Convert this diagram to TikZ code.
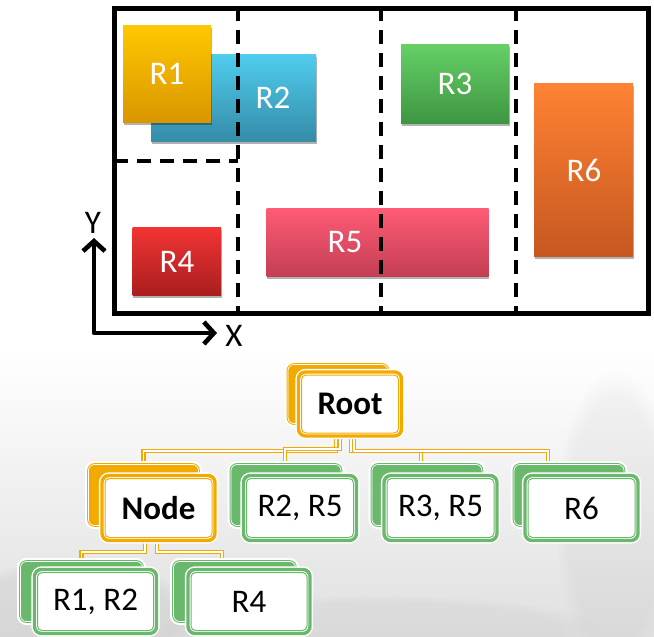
\documentclass[tikz,border=0pt]{standalone}
\usepackage{fontspec}
\setmainfont{Carlito}
\usetikzlibrary{arrows.meta,shadows,fadings}

\definecolor{gold}{RGB}{242,170,0}
\definecolor{leaf}{RGB}{106,184,108}
\definecolor{haze}{RGB}{224,224,224}
\definecolor{rOneT}{RGB}{255,200,0}
\definecolor{rOneB}{RGB}{218,150,0}
\definecolor{rTwoT}{RGB}{80,205,238}
\definecolor{rTwoB}{RGB}{52,140,168}
\definecolor{rThreeT}{RGB}{102,208,102}
\definecolor{rThreeB}{RGB}{62,150,66}
\definecolor{rFourT}{RGB}{242,52,52}
\definecolor{rFourB}{RGB}{170,30,30}
\definecolor{rFiveT}{RGB}{255,92,118}
\definecolor{rFiveB}{RGB}{196,62,84}
\definecolor{rSixT}{RGB}{255,130,52}
\definecolor{rSixB}{RGB}{198,88,32}

\newcommand\lblfont{\fontsize{33}{38}\selectfont}

\pgfdeclarelayer{backdrop}
\pgfdeclarelayer{links}
\pgfsetlayers{backdrop,links,main}

\tikzset{
  region/.style 2 args={top color=#1, bottom color=#2, draw=none, inner sep=0pt, outer sep=0pt,
    drop shadow={shadow xshift=0.5pt, shadow yshift=-3pt, opacity=0.3, fill=black}},
  rlabel/.style={text=white, font=\lblfont, inner sep=0pt},
  divider/.style={line width=4.6pt, dash pattern=on 14pt off 9pt},
  frame/.style={line width=5pt},
  axis/.style={line width=4.6pt, line join=round,
    {Straight Barb[length=10pt,width=22pt]}-{Straight Barb[length=10pt,width=22pt]}},
  axlabel/.style={font=\lblfont, inner sep=0pt},
  backbox/.style={draw=#1, fill=#1, line width=1pt, double=white, double distance=0.7pt,
    rounded corners=6pt, inner sep=0pt, outer sep=0pt,
    preaction={draw=white, line width=7pt}},
  frontbox/.style={draw=#1, fill=white, line width=3.4pt, rounded corners=7pt,
    inner sep=0pt, outer sep=0pt, font=\lblfont,
    preaction={draw=white, line width=6.2pt}},
  innerline/.style={draw=#1, line width=1pt, rounded corners=4.5pt},
  conn/.style={draw=gold, line width=1.6pt, double=white, double distance=1.3pt},
}

\begin{document}
\begin{tikzpicture}[x=1pt,y=-1pt]
\useasboundingbox (0,0) rectangle (654,637);

% faded backdrop behind the tree
\begin{pgfonlayer}{backdrop}
\fill[top color=white, bottom color=haze] (0,350) rectangle (654,637);
\fill[gray, opacity=0.07, path fading=circle with fuzzy edge 20 percent] (615,520) ellipse (60 and 150);
\fill[gray, opacity=0.10, path fading=circle with fuzzy edge 20 percent] (70,615) ellipse (130 and 55);
\fill[gray, opacity=0.07, path fading=circle with fuzzy edge 20 percent] (380,630) ellipse (220 and 35);
\end{pgfonlayer}

% ---------- spatial partition ----------
\node[region={rTwoT}{rTwoB}, minimum width=165pt, minimum height=87pt] (r2) at (233.5,97.5) {};
\node[region={rOneT}{rOneB}, minimum width=88pt, minimum height=97pt] (r1) at (167,73.5) {};
\node[region={rThreeT}{rThreeB}, minimum width=108pt, minimum height=79pt] (r3) at (455,83.5) {};
\node[region={rFourT}{rFourB}, minimum width=88.5pt, minimum height=68pt] (r4) at (176.75,261) {};
\node[region={rFiveT}{rFiveB}, minimum width=222pt, minimum height=68pt] (r5) at (377.5,242) {};
\node[region={rSixT}{rSixB}, minimum width=99pt, minimum height=173pt] (r6) at (583.5,169.5) {};

\node[rlabel] (l1) at (167,74) {R1};
\node[rlabel] (l2) at (273,98) {R2};
\node[rlabel] (l3) at (455,84) {R3};
\node[rlabel] (l4) at (177,262) {R4};
\node[rlabel] (l5) at (345,242) {R5};
\node[rlabel] (l6) at (584,170) {R6};

% cell boundaries
\draw[divider] (238,7) -- (238,313);
\draw[divider] (381,7) -- (381,313);
\draw[divider] (516,7) -- (516,313);
\draw[divider] (114,161) -- (238,161);
\draw[frame] (114,8) rectangle (648,313);

% axes
\coordinate (ytip) at (94,238);
\coordinate (orig) at (94,333);
\coordinate (xtip) at (217,333);
\draw[axis] (ytip) -- (orig) -- (xtip);
\node[axlabel] (ylab) at (93,223) {Y};
\node[axlabel] (xlab) at (234,336) {X};

% ---------- tree: back plates ----------
\node[backbox=gold, minimum width=100pt, minimum height=59pt] (rootB) at (338,394) {};
\node[backbox=gold, minimum width=110pt, minimum height=61pt] (nodeB) at (143.5,495) {};
\node[backbox=leaf, minimum width=110pt, minimum height=61pt] (rtfB) at (286,495) {};
\node[backbox=leaf, minimum width=110pt, minimum height=61pt] (rthfB) at (427,495) {};
\node[backbox=leaf, minimum width=110pt, minimum height=61pt] (rsB) at (569,495) {};
\node[backbox=leaf, minimum width=122pt, minimum height=60pt] (rotB) at (81.5,591.5) {};
\node[backbox=leaf, minimum width=122pt, minimum height=60pt] (rfB) at (234.5,591.5) {};

% ---------- tree: front cards ----------
\node[frontbox=gold, minimum width=103pt, minimum height=64pt] (root) at (350,404) {\bfseries Root};
\node[frontbox=gold, minimum width=113pt, minimum height=65pt] (nodeA) at (158.5,508) {\bfseries Node};
\node[frontbox=leaf, minimum width=113pt, minimum height=65pt] (rtf) at (300,508) {R2, R5};
\node[frontbox=leaf, minimum width=113pt, minimum height=65pt] (rthf) at (440.5,508) {R3, R5};
\node[frontbox=leaf, minimum width=113pt, minimum height=65pt] (rs) at (581.5,508) {R6};
\node[frontbox=leaf, minimum width=122pt, minimum height=64pt] (rot) at (95.5,601.5) {R1, R2};
\node[frontbox=leaf, minimum width=122pt, minimum height=64pt] (rf) at (249,601.5) {R4};

\foreach \n/\c in {root/gold, nodeA/gold, rtf/leaf, rthf/leaf, rs/leaf, rot/leaf, rf/leaf}
  \draw[innerline=\c] ([shift={(3pt,3pt)}]\n.south west) rectangle ([shift={(-3pt,-3pt)}]\n.north east);

% ---------- tree: connectors (under the cards) ----------
\begin{pgfonlayer}{links}
\draw[conn] ([xshift=-14pt]root.south) -- ++(0,15) -| (nodeB.north);
\draw[conn] ([xshift=-10pt]root.south) -- ++(0,13) -| ([xshift=-1pt]rtfB.north);
\draw[conn] ([xshift=1pt]root.south) -- ++(0,15) -| ([xshift=-6pt]rthfB.north);
\draw[conn] ([xshift=4pt]root.south) -- ++(0,15) -| ([xshift=-21pt]rsB.north);
\draw[conn] ([xshift=-13.5pt]nodeA.south) -- ++(0,11.5) -| (rotB.north);
\draw[conn] ([xshift=-1.5pt]nodeA.south) -- ++(0,11.5) -| ([xshift=-12.5pt]rfB.north);
\end{pgfonlayer}
\end{tikzpicture}
\end{document}
